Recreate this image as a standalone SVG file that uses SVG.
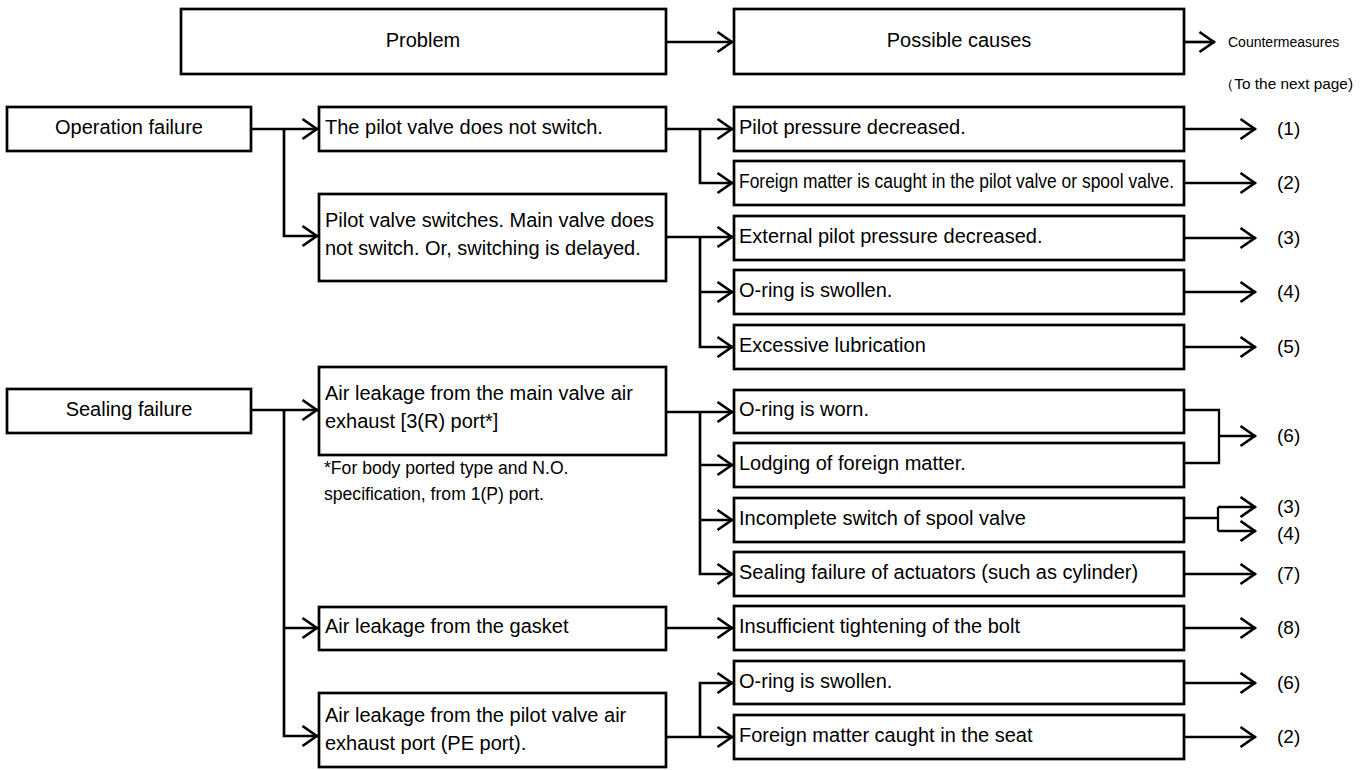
<svg xmlns="http://www.w3.org/2000/svg" width="1371" height="770" viewBox="0 0 1371 770">
<style>
.box{fill:#fff;stroke:#000;stroke-width:2.7}
.t{font-family:"Liberation Sans",Arial,sans-serif;font-size:20px;fill:#000}
.c{text-anchor:middle}
.sm{font-size:14px}
.fn{font-size:17.6px}
.lab{font-size:19px}
.con{fill:none;stroke:#000;stroke-width:2.7;stroke-linejoin:miter}
.rc{fill:none;stroke:#000;stroke-width:2.3}
</style>
<defs>
<marker id="ar" viewBox="-19 -12 21 24" refX="0" refY="0" markerWidth="21" markerHeight="24" markerUnits="userSpaceOnUse" orient="auto">
<path d="M-15.5,-10 L-1.2,0 L-15.5,10" fill="none" stroke="#000" stroke-width="2.7"/>
</marker>
</defs>
<rect width="1371" height="770" fill="#fff"/>
<g id="connectors">
<path class="con" d="M666,42 H733" marker-end="url(#ar)"/>
<path class="con" d="M1184,42 H1215" marker-end="url(#ar)"/>
<path class="con" d="M251,129 H318" marker-end="url(#ar)"/>
<path class="con" d="M284,129 V236 H318" marker-end="url(#ar)"/>
<path class="con" d="M251,410 H318" marker-end="url(#ar)"/>
<path class="con" d="M284,410 V736 H318" marker-end="url(#ar)"/>
<path class="con" d="M284,628 H318" marker-end="url(#ar)"/>
<path class="con" d="M666,129 H733" marker-end="url(#ar)"/>
<path class="con" d="M700,129 V183 H733" marker-end="url(#ar)"/>
<path class="con" d="M666,237 H733" marker-end="url(#ar)"/>
<path class="con" d="M700,237 V347 H733" marker-end="url(#ar)"/>
<path class="con" d="M700,292 H733" marker-end="url(#ar)"/>
<path class="con" d="M666,412 H733" marker-end="url(#ar)"/>
<path class="con" d="M700,412 V574 H733" marker-end="url(#ar)"/>
<path class="con" d="M700,465 H733" marker-end="url(#ar)"/>
<path class="con" d="M700,520 H733" marker-end="url(#ar)"/>
<path class="con" d="M666,628 H733" marker-end="url(#ar)"/>
<path class="con" d="M666,737 H733" marker-end="url(#ar)"/>
<path class="con" d="M700,737 V683 H733" marker-end="url(#ar)"/>
<path class="rc" d="M1184,129 H1256" marker-end="url(#ar)"/>
<path class="rc" d="M1184,183 H1256" marker-end="url(#ar)"/>
<path class="rc" d="M1184,238 H1256" marker-end="url(#ar)"/>
<path class="rc" d="M1184,292 H1256" marker-end="url(#ar)"/>
<path class="rc" d="M1184,347 H1256" marker-end="url(#ar)"/>
<path class="rc" d="M1184,410 H1219 V463 H1184"/>
<path class="rc" d="M1219,436 H1256" marker-end="url(#ar)"/>
<path class="rc" d="M1184,518 H1218"/>
<path class="rc" d="M1218,507 V531"/>
<path class="rc" d="M1218,507 H1256" marker-end="url(#ar)"/>
<path class="rc" d="M1218,531 H1256" marker-end="url(#ar)"/>
<path class="rc" d="M1184,574 H1256" marker-end="url(#ar)"/>
<path class="rc" d="M1184,628 H1256" marker-end="url(#ar)"/>
<path class="rc" d="M1184,683 H1256" marker-end="url(#ar)"/>
<path class="rc" d="M1184,737 H1256" marker-end="url(#ar)"/>
</g>
<g id="problem"><rect class="box" x="181" y="9" width="485" height="65"/><text class="t c" x="423" y="47">Problem</text></g>
<g id="possible-causes"><rect class="box" x="734" y="9" width="450" height="65"/><text class="t c" x="959" y="47">Possible causes</text></g>
<g id="countermeasures"><text class="t sm" x="1228" y="47">Countermeasures</text><text class="t sm" x="1219" y="89" textLength="134" lengthAdjust="spacingAndGlyphs">（To the next page)</text></g>
<g id="operation-failure"><rect class="box" x="7" y="107" width="244" height="44"/><text class="t c" x="129" y="134">Operation failure</text></g>
<g id="sealing-failure"><rect class="box" x="7" y="389" width="244" height="44"/><text class="t c" x="129" y="416">Sealing failure</text></g>
<g id="p-pilot-not-switch"><rect class="box" x="319" y="107" width="347" height="44"/><text class="t" x="325" y="134">The pilot valve does not switch.</text></g>
<g id="p-pilot-switches"><rect class="box" x="319" y="194" width="347" height="87"/><text class="t" x="325" y="227">Pilot valve switches. Main valve does</text><text class="t" x="325" y="255">not switch. Or, switching is delayed.</text></g>
<g id="p-main-valve"><rect class="box" x="319" y="367" width="347" height="88"/><text class="t" x="325" y="400">Air leakage from the main valve air</text><text class="t" x="325" y="428">exhaust [3(R) port*]</text></g>
<g id="footnote"><text class="t fn" x="324" y="474">*For body ported type and N.O.</text><text class="t fn" x="324" y="500">specification, from 1(P) port.</text></g>
<g id="p-gasket"><rect class="box" x="319" y="607" width="347" height="43"/><text class="t" x="325" y="633">Air leakage from the gasket</text></g>
<g id="p-pe"><rect class="box" x="319" y="693" width="347" height="74"/><text class="t" x="325" y="722">Air leakage from the pilot valve air</text><text class="t" x="325" y="750">exhaust port (PE port).</text></g>
<g id="c1"><rect class="box" x="734" y="107" width="450" height="44"/><text class="t" x="739" y="134">Pilot pressure decreased.</text></g>
<g id="c2"><rect class="box" x="734" y="161" width="450" height="44"/><text class="t" x="739" y="188" font-size="17.4" textLength="435" lengthAdjust="spacingAndGlyphs">Foreign matter is caught in the pilot valve or spool valve.</text></g>
<g id="c3"><rect class="box" x="734" y="216" width="450" height="44"/><text class="t" x="739" y="243">External pilot pressure decreased.</text></g>
<g id="c4"><rect class="box" x="734" y="270" width="450" height="44"/><text class="t" x="739" y="297">O-ring is swollen.</text></g>
<g id="c5"><rect class="box" x="734" y="325" width="450" height="44"/><text class="t" x="739" y="352">Excessive lubrication</text></g>
<g id="c6"><rect class="box" x="734" y="390" width="450" height="43"/><text class="t" x="739" y="416">O-ring is worn.</text></g>
<g id="c7"><rect class="box" x="734" y="443" width="450" height="44"/><text class="t" x="739" y="470">Lodging of foreign matter.</text></g>
<g id="c8"><rect class="box" x="734" y="498" width="450" height="44"/><text class="t" x="739" y="525">Incomplete switch of spool valve</text></g>
<g id="c9"><rect class="box" x="734" y="552" width="450" height="44"/><text class="t" x="739" y="579">Sealing failure of actuators (such as cylinder)</text></g>
<g id="c10"><rect class="box" x="734" y="606" width="450" height="44"/><text class="t" x="739" y="633">Insufficient tightening of the bolt</text></g>
<g id="c11"><rect class="box" x="734" y="661" width="450" height="43"/><text class="t" x="739" y="688">O-ring is swollen.</text></g>
<g id="c12"><rect class="box" x="734" y="715" width="450" height="44"/><text class="t" x="739" y="742">Foreign matter caught in the seat</text></g>
<g id="labels">
<text class="t lab" x="1277" y="135">(1)</text>
<text class="t lab" x="1277" y="189">(2)</text>
<text class="t lab" x="1277" y="244">(3)</text>
<text class="t lab" x="1277" y="298">(4)</text>
<text class="t lab" x="1277" y="353">(5)</text>
<text class="t lab" x="1277" y="442">(6)</text>
<text class="t lab" x="1277" y="513">(3)</text>
<text class="t lab" x="1277" y="540">(4)</text>
<text class="t lab" x="1277" y="580">(7)</text>
<text class="t lab" x="1277" y="634">(8)</text>
<text class="t lab" x="1277" y="689">(6)</text>
<text class="t lab" x="1277" y="743">(2)</text>
</g>
</svg>
